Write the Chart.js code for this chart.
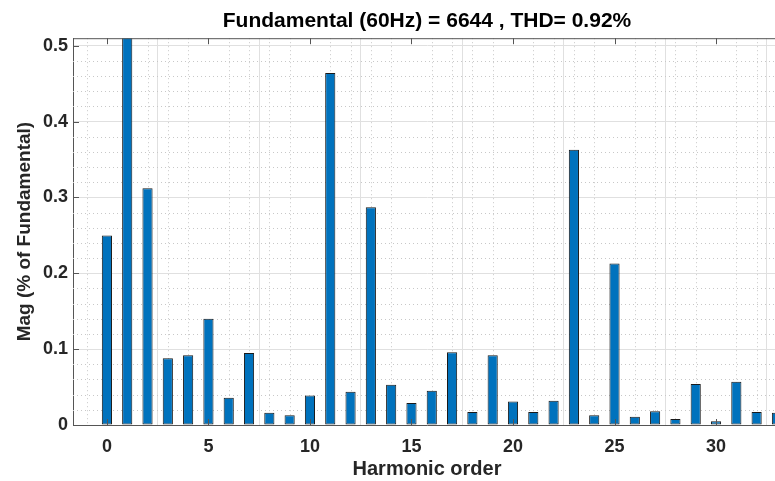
<!DOCTYPE html>
<html>
<head>
<meta charset="utf-8">
<script src="https://cdn.jsdelivr.net/npm/chart.js@4.4.0/dist/chart.umd.min.js"></script>
<style>
  html, body { margin: 0; padding: 0; overflow: hidden; background: #fff; }
  #wrap { width: 854px; height: 481px; }
</style>
</head>
<body>
<div id="wrap"><canvas id="fft"></canvas></div>
<script>
// harmonic order (0 = DC, 1 = fundamental)
const harmonics = [0, 1, 2, 3, 4, 5, 6, 7, 8, 9, 10, 11, 12, 13, 14, 15, 16,
  17, 18, 19, 20, 21, 22, 23, 24, 25, 26, 27, 28, 29, 30, 31, 32, 33];
// magnitude, % of fundamental (fundamental itself is 100, clipped by the axis)
const mag = [0.250, 100, 0.312, 0.088, 0.092, 0.140, 0.036, 0.095, 0.016, 0.013,
  0.039, 0.464, 0.044, 0.287, 0.053, 0.029, 0.045, 0.096, 0.017, 0.092,
  0.031, 0.017, 0.032, 0.363, 0.013, 0.213, 0.011, 0.018, 0.008, 0.054,
  0.005, 0.057, 0.017, 0.016];

const fundamental = 6644;
const thd = 0.92;

const axisColor = '#555555';
const textColor = '#262626';
const fontFamily = '"Liberation Sans", Arial, Helvetica, sans-serif';

// matlab style: dotted minor grid, box on top, ticks pointing inward
const matlabAxes = {
  id: 'matlabAxes',
  beforeDatasetsDraw(chart) {
    const { ctx, chartArea: a, scales: { x, y } } = chart;
    ctx.save();
    ctx.strokeStyle = '#c8c8c8';
    ctx.lineWidth = 1;
    ctx.setLineDash([1, 3]);
    ctx.beginPath();
    for (let v = Math.ceil(x.min); v <= x.max; v++) {
      if (v % 5 === 0) continue;
      const px = Math.round(x.getPixelForValue(v)) + 0.5;
      ctx.moveTo(px, a.top);
      ctx.lineTo(px, a.bottom);
    }
    for (let k = 1; k * 0.02 < y.max; k++) {
      if (k % 5 === 0) continue;
      const py = Math.round(y.getPixelForValue(k * 0.02)) + 0.5;
      ctx.moveTo(a.left, py);
      ctx.lineTo(a.right, py);
    }
    ctx.stroke();
    ctx.restore();
  },
  afterDatasetsDraw(chart) {
    const { ctx, chartArea: a, scales: { x, y } } = chart;
    ctx.save();
    ctx.strokeStyle = axisColor;
    ctx.lineWidth = 1;
    ctx.beginPath();
    ctx.moveTo(a.left, a.top + 0.5);
    ctx.lineTo(a.right, a.top + 0.5);
    for (const t of x.ticks) {
      const px = Math.round(x.getPixelForValue(t.value)) + 0.5;
      ctx.moveTo(px, a.bottom);
      ctx.lineTo(px, a.bottom - 6);
      ctx.moveTo(px, a.top);
      ctx.lineTo(px, a.top + 6);
    }
    for (const t of y.ticks) {
      const py = Math.round(y.getPixelForValue(t.value)) + 0.5;
      ctx.moveTo(a.left, py);
      ctx.lineTo(a.left + 6, py);
    }
    ctx.stroke();
    ctx.restore();
  }
};

new Chart(document.getElementById('fft'), {
  type: 'bar',
  data: {
    datasets: [{
      data: harmonics.map((h, i) => ({ x: h, y: mag[i] })),
      backgroundColor: '#0072BD',
      borderColor: '#1a1a1a',
      borderWidth: 1,
      borderSkipped: false,
      categoryPercentage: 1,
      barPercentage: 0.5,
      clip: 0
    }]
  },
  options: {
    responsive: true,
    maintainAspectRatio: false,
    animation: false,
    layout: { padding: 0 },
    plugins: {
      legend: { display: false },
      tooltip: { enabled: false },
      title: {
        display: true,
        text: `Fundamental (60Hz) = ${fundamental} , THD= ${thd}%`,
        color: '#000',
        font: { family: fontFamily, size: 21, weight: 'bold' },
        padding: { top: 9, bottom: 4 }
      }
    },
    scales: {
      x: {
        type: 'linear',
        min: -1.67,
        max: 33.2,
        offset: false,
        afterFit(scale) { scale.height = 56; },
        ticks: {
          stepSize: 5,
          includeBounds: false,
          color: textColor,
          padding: 11,
          font: { family: fontFamily, size: 18, weight: 'bold' }
        },
        grid: { color: '#e0e0e0', drawTicks: false },
        border: { color: axisColor },
        title: {
          display: true,
          text: 'Harmonic order',
          color: textColor,
          font: { family: fontFamily, size: 20, weight: 'bold' },
          padding: { top: 0, bottom: 0 }
        }
      },
      y: {
        min: 0,
        max: 0.51,
        afterFit(scale) { scale.width = 73; },
        ticks: {
          stepSize: 0.1,
          includeBounds: false,
          color: textColor,
          padding: 5,
          font: { family: fontFamily, size: 18, weight: 'bold' }
        },
        grid: { color: '#e0e0e0', drawTicks: false },
        border: { color: axisColor },
        title: {
          display: true,
          text: 'Mag (% of Fundamental)',
          color: textColor,
          font: { family: fontFamily, size: 19, weight: 'bold' },
          padding: { top: 13, bottom: 0 }
        }
      },
      // empty right-hand strip so the axes run past the window edge like the original
      yRight: {
        position: 'right',
        display: true,
        afterFit(scale) { scale.width = 73; },
        ticks: { display: false },
        grid: { display: false },
        border: { display: false }
      }
    }
  },
  plugins: [matlabAxes]
});
</script>
</body>
</html>
